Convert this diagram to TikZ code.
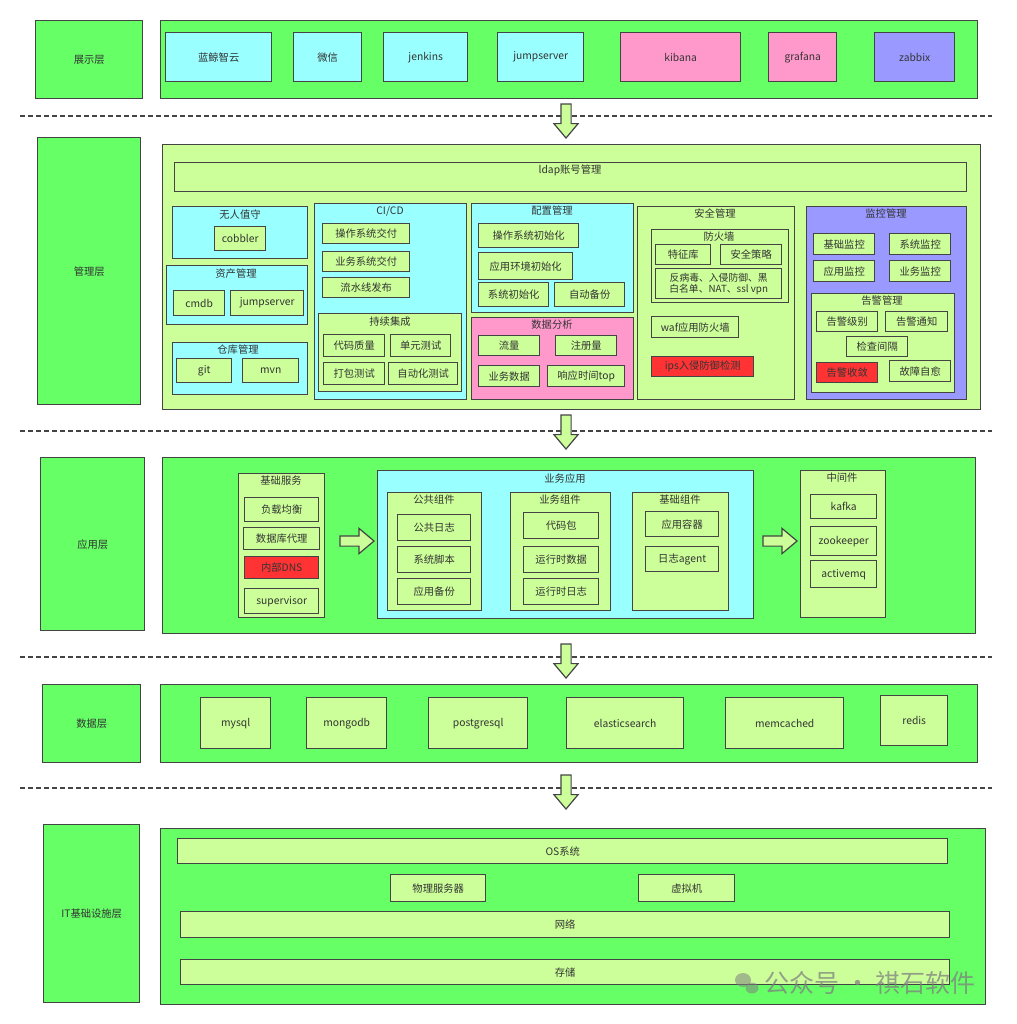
\documentclass[tikz,border=0pt]{standalone}
\usepackage{fontspec}
\setmainfont{Noto Sans CJK SC}
\usetikzlibrary{shapes.arrows}
\definecolor{lg}{HTML}{66FF66}
\definecolor{pg}{HTML}{CCFF99}
\definecolor{cy}{HTML}{99FFFF}
\definecolor{pk}{HTML}{FF99CC}
\definecolor{pu}{HTML}{9999FF}
\definecolor{rd}{HTML}{FF3333}
\definecolor{ln}{HTML}{444444}
\definecolor{tx}{HTML}{333333}

\begin{document}
\begin{tikzpicture}[x=1pt, y=-1pt,
  box/.style={draw=ln, line width=1.4pt, anchor=north west, inner sep=0pt, align=center, text=tx, font=\fontsize{10.3}{12}\selectfont},
  sz/.style 2 args={minimum width=#1pt, minimum height=#2pt},
  lay/.style={box, fill=lg},
  itm/.style={box, fill=pg},
  cyb/.style={box, fill=cy},
  pkb/.style={box, fill=pk},
  pub/.style={box, fill=pu},
  rdb/.style={box, fill=rd},
  ttl/.style={text=tx, inner sep=0pt, font=\fontsize{10.3}{12}\selectfont},
  sep/.style={draw=ln, line width=1.2pt, dash pattern=on 5pt off 3pt},
  dnarr/.style={single arrow, draw=ln, fill=pg, line width=1.2pt, minimum height=34pt, minimum width=23pt, inner sep=4.5pt, single arrow head extend=7pt, single arrow tip angle=80, rotate=-90},
  rtarr/.style={single arrow, draw=ln, fill=pg, line width=1.2pt, minimum height=34pt, minimum width=24pt, inner sep=4.5pt, single arrow head extend=7.5pt, single arrow tip angle=80}]
  \fill[white] (0,0) rectangle (1016,1024);
  \useasboundingbox (0,0) rectangle (1016,1024);

  % 展示层
  \node[lay, sz={107}{78}] (showL) at (35,20) {展示层};
  \node[lay, sz={817}{78}] (showM) at (160,20) {};
  \node[cyb, sz={106}{49}] (lanjing) at (165,32) {蓝鲸智云};
  \node[cyb, sz={68}{49}] (wechat) at (293,32) {微信};
  \node[cyb, sz={84}{49}] (jenkins) at (383,32) {jenkins};
  \node[cyb, sz={86}{49}] (jumpA) at (497,32) {jumpserver};
  \node[pkb, sz={120}{49}] (kibana) at (620,32) {kibana};
  \node[pkb, sz={68}{49}] (grafana) at (768,32) {grafana};
  \node[pub, sz={80}{49}] (zabbix) at (874,32) {zabbix};

  \draw[sep] (20,116) -- (992,116);
  \draw[sep] (20,431) -- (992,431);
  \draw[sep] (20,657) -- (992,657);
  \draw[sep] (20,788) -- (992,788);
  \node[dnarr] (down1) at (566,118) {};
  \node[dnarr] (down2) at (566,429) {};
  \node[dnarr] (down3) at (566,658) {};
  \node[dnarr] (down4) at (566,789) {};

  % 管理层
  \node[lay, sz={103}{267}] (mgmtL) at (37,137) {管理层};
  \node[itm, sz={818}{265}] (mgmtM) at (162,144) {};
  \node[itm, sz={792}{29}] (ldap) at (174,162) {};
  \node[ttl] (ldapT) at (570,170) {ldap账号管理};

  \node[cyb, sz={135}{52}] (unattended) at (172,206) {};
  \node[ttl] (unattendedT) at (240,215) {无人值守};
  \node[itm, sz={51}{24}] (cobbler) at (214,226) {cobbler};
  \node[cyb, sz={141}{59}] (asset) at (166,265) {};
  \node[ttl] (assetT) at (236,274) {资产管理};
  \node[itm, sz={51}{25}] (cmdb) at (173,290) {cmdb};
  \node[itm, sz={73}{25}] (jumpB) at (230,290) {jumpserver};
  \node[cyb, sz={135}{52}] (repo) at (172,342) {};
  \node[ttl] (repoT) at (238,350) {仓库管理};
  \node[itm, sz={55}{24}] (git) at (176,358) {git};
  \node[itm, sz={56}{24}] (mvn) at (242,358) {mvn};

  \node[cyb, sz={152}{196}] (cicd) at (314,203) {};
  \node[ttl] (cicdT) at (390,211) {CI/CD};
  \node[itm, sz={87}{20}] (osDeliver) at (322,223) {操作系统交付};
  \node[itm, sz={87}{20}] (bizDeliver) at (322,251) {业务系统交付};
  \node[itm, sz={87}{20}] (pipeline) at (322,277) {流水线发布};
  \node[itm, sz={143}{78}] (ci) at (318,313) {};
  \node[ttl] (ciT) at (390,322) {持续集成};
  \node[itm, sz={61}{22}] (codeQ) at (323,334) {代码质量};
  \node[itm, sz={60}{22}] (unitT) at (390,334) {单元测试};
  \node[itm, sz={61}{22}] (packT) at (323,362) {打包测试};
  \node[itm, sz={69}{22}] (autoT) at (388,362) {自动化测试};

  \node[cyb, sz={162}{109}] (config) at (471,203) {};
  \node[ttl] (configT) at (552,211) {配置管理};
  \node[itm, sz={100}{24}] (osInit) at (478,223) {操作系统初始化};
  \node[itm, sz={94}{27}] (envInit) at (478,252) {应用环境初始化};
  \node[itm, sz={70}{24}] (sysInit) at (478,282) {系统初始化};
  \node[itm, sz={70}{24}] (autoBak) at (554,282) {自动备份};
  \node[pkb, sz={162}{82}] (analysis) at (471,317) {};
  \node[ttl] (analysisT) at (552,325) {数据分析};
  \node[itm, sz={61}{20}] (traffic) at (478,335) {流量};
  \node[itm, sz={61}{20}] (register) at (555,335) {注册量};
  \node[itm, sz={61}{21}] (bizData) at (478,365) {业务数据};
  \node[itm, sz={77}{21}] (respTop) at (547,365) {响应时间top};

  \node[itm, sz={157}{193}] (security) at (637,206) {};
  \node[ttl] (securityT) at (715,214) {安全管理};
  \node[itm, sz={137}{73}] (firewall) at (651,229) {};
  \node[ttl] (firewallT) at (719,237) {防火墙};
  \node[itm, sz={55}{20}] (feature) at (655,244) {特征库};
  \node[itm, sz={61}{20}] (policy) at (720,244) {安全策略};
  \node[itm, sz={126}{30}, font=\fontsize{9.8}{11}\selectfont] (antivirus) at (655,268) {反病毒、入侵防御、黑\\白名单、NAT、ssl vpn};
  \node[itm, sz={87}{21}] (waf) at (651,316) {waf应用防火墙};
  \node[rdb, sz={102}{20}] (ips) at (651,356) {ips入侵防御检测};

  \node[pub, sz={160}{193}] (monitor) at (806,206) {};
  \node[ttl] (monitorT) at (886,214) {监控管理};
  \node[itm, sz={61}{21}] (baseMon) at (813,233) {基础监控};
  \node[itm, sz={61}{21}] (sysMon) at (889,233) {系统监控};
  \node[itm, sz={61}{21}] (appMon) at (813,260) {应用监控};
  \node[itm, sz={61}{21}] (bizMon) at (889,260) {业务监控};
  \node[itm, sz={143}{99}] (alarm) at (811,293) {};
  \node[ttl] (alarmT) at (882,301) {告警管理};
  \node[itm, sz={61}{20}] (alarmLv) at (816,311) {告警级别};
  \node[itm, sz={62}{20}] (alarmNt) at (885,311) {告警通知};
  \node[itm, sz={61}{20}] (interval) at (846,336) {检查间隔};
  \node[rdb, sz={61}{20}] (converge) at (816,362) {告警收敛};
  \node[itm, sz={61}{21}] (selfHeal) at (889,360) {故障自愈};

  % 应用层
  \node[lay, sz={104}{173}] (appL) at (40,457) {应用层};
  \node[lay, sz={813}{176}] (appM) at (162,457) {};
  \node[itm, sz={86}{144}] (baseSvc) at (238,473) {};
  \node[ttl] (baseSvcT) at (281,481) {基础服务};
  \node[itm, sz={74}{24}] (lb) at (244,497) {负载均衡};
  \node[itm, sz={76}{22}] (dbProxy) at (243,527) {数据库代理};
  \node[rdb, sz={74}{22}] (dns) at (244,556) {内部DNS};
  \node[itm, sz={74}{25}] (supervisor) at (244,588) {supervisor};
  \node[rtarr] (right1) at (354,541) {};
  \node[cyb, sz={376}{148}] (bizApp) at (377,470) {};
  \node[ttl] (bizAppT) at (565,479) {业务应用};
  \node[itm, sz={94}{118}] (common) at (387,492) {};
  \node[ttl] (commonT) at (434,500) {公共组件};
  \node[itm, sz={73}{26}] (commonLog) at (397,514) {公共日志};
  \node[itm, sz={73}{26}] (script) at (397,546) {系统脚本};
  \node[itm, sz={73}{26}] (appBak) at (397,578) {应用备份};
  \node[itm, sz={100}{118}] (bizComp) at (510,492) {};
  \node[ttl] (bizCompT) at (560,500) {业务组件};
  \node[itm, sz={75}{26}] (codePkg) at (523,512) {代码包};
  \node[itm, sz={75}{26}] (rtData) at (523,546) {运行时数据};
  \node[itm, sz={75}{26}] (rtLog) at (523,578) {运行时日志};
  \node[itm, sz={96}{118}] (baseComp) at (632,492) {};
  \node[ttl] (baseCompT) at (680,500) {基础组件};
  \node[itm, sz={73}{25}] (container) at (645,511) {应用容器};
  \node[itm, sz={73}{25}] (logAgent) at (645,546) {日志agent};
  \node[rtarr] (right2) at (777,541) {};
  \node[itm, sz={85}{147}] (middleware) at (800,470) {};
  \node[ttl] (middlewareT) at (842,478) {中间件};
  \node[itm, sz={66}{24}] (kafka) at (810,494) {kafka};
  \node[itm, sz={66}{29}] (zookeeper) at (810,526) {zookeeper};
  \node[itm, sz={66}{27}] (activemq) at (810,560) {activemq};

  % 数据层
  \node[lay, sz={98}{78}] (dataL) at (42,684) {数据层};
  \node[lay, sz={817}{78}] (dataM) at (160,684) {};
  \node[itm, sz={70}{51}] (mysql) at (200,697) {mysql};
  \node[itm, sz={80}{51}] (mongodb) at (306,697) {mongodb};
  \node[itm, sz={99}{51}] (postgresql) at (428,697) {postgresql};
  \node[itm, sz={117}{51}] (elastic) at (566,697) {elasticsearch};
  \node[itm, sz={118}{51}] (memcached) at (725,697) {memcached};
  \node[itm, sz={67}{50}] (redis) at (880,695) {redis};

  % IT基础设施层
  \node[lay, sz={96}{178}] (itL) at (43,824) {IT基础设施层};
  \node[lay, sz={825}{176}] (itM) at (160,828) {};
  \node[itm, sz={770}{25}] (os) at (177,838) {OS系统};
  \node[itm, sz={95}{27}] (physical) at (390,874) {物理服务器};
  \node[itm, sz={96}{27}] (vm) at (638,874) {虚拟机};
  \node[itm, sz={769}{26}] (network) at (180,911) {网络};
  \node[itm, sz={769}{25}] (storage) at (180,959) {存储};

  \fill[gray, opacity=.55] (743,980) ellipse (8 and 7);
  \fill[gray, opacity=.55] (752,988) ellipse (6.5 and 5.5);
  \node[text=gray, opacity=.75, inner sep=0pt, font=\fontsize{25}{28}\selectfont] (mark) at (870,983) {公众号 · 祺石软件};
\end{tikzpicture}
\end{document}
